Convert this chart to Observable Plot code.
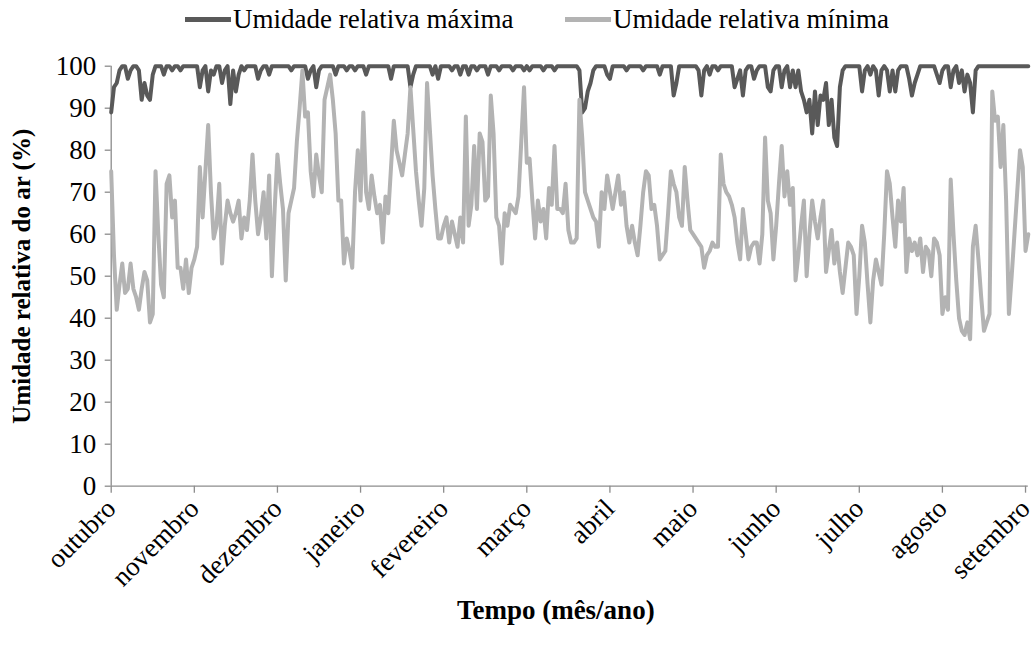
<!DOCTYPE html>
<html><head><meta charset="utf-8">
<script src="https://cdn.jsdelivr.net/npm/d3@7"></script>
<script src="https://cdn.jsdelivr.net/npm/@observablehq/plot@0.6"></script>
<style>
body{margin:0;background:#fff;font-family:'Liberation Serif','Times New Roman',Times,'DejaVu Serif','Noto Serif',serif;}
#legend{position:relative;height:40px;width:1035px;}
.sw{position:absolute;top:17px;height:5px;width:46px;}
.lt{position:absolute;top:4px;font-size:27px;line-height:30px;color:#000;white-space:nowrap;}
</style></head><body>
<div id="legend"></div>
<div id="chart"></div>
<script>
const meses = ["outubro","novembro","dezembro","janeiro","fevereiro","março","abril","maio","junho","julho","agosto","setembro"];
const seriesNomes = ["Umidade relativa máxima","Umidade relativa mínima"];
const yTicks = [0,10,20,30,40,50,60,70,80,90,100];
const tituloX = "Tempo (mês/ano)";
const tituloY = "Umidade relativa do ar (%)";

const maxima = [
89,95,96,99,100,100,97,99,100,100,
99,92,96,93,92,98,100,100,100,98,
100,100,99,100,100,99,100,100,100,100,
100,100,95,99,100,94,99,98,100,100,
96,99,100,91,99,94,98,100,99,100,
100,100,100,97,99,100,100,98,100,100,
100,100,100,100,100,99,100,100,100,100,
100,97,99,100,95,99,100,100,100,100,
100,98,100,100,100,99,100,100,99,100,
100,100,98,100,100,100,100,100,100,100,
100,97,100,100,100,100,100,100,95,98,
100,100,100,100,100,100,98,100,97,100,
100,100,100,99,100,100,98,100,100,98,
100,100,99,100,100,100,98,100,100,100,
99,100,100,100,100,99,100,100,100,99,
100,99,100,100,100,100,99,100,100,100,
99,100,100,100,100,100,100,100,100,99,
89,90,94,96,99,100,100,100,100,98,
97,100,100,100,100,100,99,100,100,100,
100,100,99,100,100,100,100,100,98,100,
100,100,100,93,96,100,100,100,100,100,
100,100,99,93,99,100,98,100,100,99,
100,100,100,100,100,95,97,99,93,99,
100,100,97,99,100,100,100,95,94,99,
100,100,95,99,100,95,99,95,99,94,
92,89,92,84,94,86,93,92,96,86,
92,83,81,95,99,100,100,100,100,100,
100,94,99,100,98,100,99,93,99,100,
99,94,99,94,99,100,100,100,97,93,
96,98,100,100,100,100,100,100,98,96,
99,100,100,95,99,100,96,99,94,98,
96,89,99,100,100,100,100,100,100,100,
100,100,100,100,100,100,100,100,100,100,100,100
];

const minima = [
75,55,42,48,53,46,47,53,47,45,
42,47,51,49,39,41,75,60,48,45,
72,74,64,68,52,52,47,54,46,52,
54,57,76,64,75,86,70,59,62,72,
53,62,68,65,63,65,68,59,64,61,
68,79,68,60,64,70,59,74,50,66,
79,72,66,49,65,68,71,82,90,99,
88,89,75,69,79,74,70,92,95,98,
92,84,68,68,53,59,56,52,70,80,
68,89,70,66,74,69,65,67,58,69,
65,76,87,80,77,74,79,84,95,85,
75,68,62,71,96,85,74,66,59,59,
62,64,58,63,60,57,64,58,88,62,
67,81,66,84,82,68,69,93,84,64,
62,53,65,62,67,66,65,69,82,95,
77,78,68,59,68,63,66,59,71,67,
81,66,66,65,72,61,58,58,59,92,
83,70,68,66,64,63,57,70,66,74,
70,66,70,74,67,70,62,58,62,58,
55,62,70,75,74,66,67,62,54,55,
56,65,75,72,70,64,62,76,68,61,
60,59,58,57,52,55,56,58,57,57,
79,72,70,69,67,64,58,54,66,60,
54,57,58,58,53,60,83,68,65,54,
62,72,81,69,75,67,71,49,55,62,
68,50,60,68,63,59,64,68,51,56,
61,53,58,51,46,52,58,57,55,41,
50,62,58,48,39,49,54,51,48,60,
75,72,64,57,68,63,71,51,59,56,
58,55,59,51,57,56,50,59,58,55,
41,45,42,73,60,49,40,37,36,39,
35,57,62,54,45,37,39,41,94,87,
88,76,86,68,41,50,60,70,80,76,56,60
];

const cores = ["#595959", "#b3b3b3"];
const fonte = "'Liberation Serif','Times New Roman',Times,'DejaVu Serif','Noto Serif',serif";

// legend
const leg = document.getElementById("legend");
const legPos = [[185, 233], [565, 613]];
seriesNomes.forEach((nome, k) => {
  const sw = document.createElement("div");
  sw.className = "sw"; sw.style.left = legPos[k][0] + "px"; sw.style.background = cores[k];
  leg.appendChild(sw);
  const t = document.createElement("div");
  t.className = "lt"; t.style.left = legPos[k][1] + "px"; t.textContent = nome;
  leg.appendChild(t);
});

const tabela = (arr, serie) => arr.map((v, i) => ({dia: i, valor: v, serie}));
const dadosMax = tabela(maxima, seriesNomes[0]);
const dadosMin = tabela(minima, seriesNomes[1]);
const n = Math.max(maxima.length, minima.length);
const posMeses = meses.map((m, i) => i * 30);

const chart = Plot.plot({
  width: 1035,
  height: 605,
  marginLeft: 110.7,
  marginRight: 7.2,
  marginTop: 25.7,
  marginBottom: 159.3,
  style: {fontFamily: fonte, fontSize: "27px", color: "#000", background: "#fff", overflow: "visible"},
  x: {domain: [0, n - 1]},
  y: {domain: [0, 100]},
  marks: [
    Plot.axisY({ticks: yTicks, tickSize: 6, tickPadding: 9, stroke: "#8c8c8c", strokeWidth: 1.3, label: null}),
    Plot.axisX({ticks: posMeses, tickFormat: () => "", tickSize: 7, stroke: "#8c8c8c", strokeWidth: 1.3, label: null}),
    Plot.axisX({ticks: posMeses, tickFormat: d => meses[d / 30], tickSize: 0, tickPadding: 18, dx: 0, tickRotate: -45, label: null}),
    Plot.ruleY([0], {stroke: "#8c8c8c", strokeWidth: 1.3}),
    Plot.ruleX([0], {stroke: "#8c8c8c", strokeWidth: 1.3}),
    Plot.line(dadosMax, {x: "dia", y: "valor", stroke: cores[0], strokeWidth: 4, strokeLinejoin: "round"}),
    Plot.line(dadosMin, {x: "dia", y: "valor", stroke: cores[1], strokeWidth: 4, strokeLinejoin: "round"}),
    Plot.text([tituloY], {text: d => d, frameAnchor: "left", textAnchor: "middle", lineAnchor: "middle", dx: -89, rotate: -90, fontWeight: "bold", fontSize: 25, fill: "#000"}),
    Plot.text([tituloX], {text: d => d, frameAnchor: "bottom", textAnchor: "middle", lineAnchor: "middle", dx: -14, dy: 124, fontWeight: "bold", fontSize: 27, fill: "#000"})
  ]
});
document.getElementById("chart").appendChild(chart);
</script>
</body></html>
